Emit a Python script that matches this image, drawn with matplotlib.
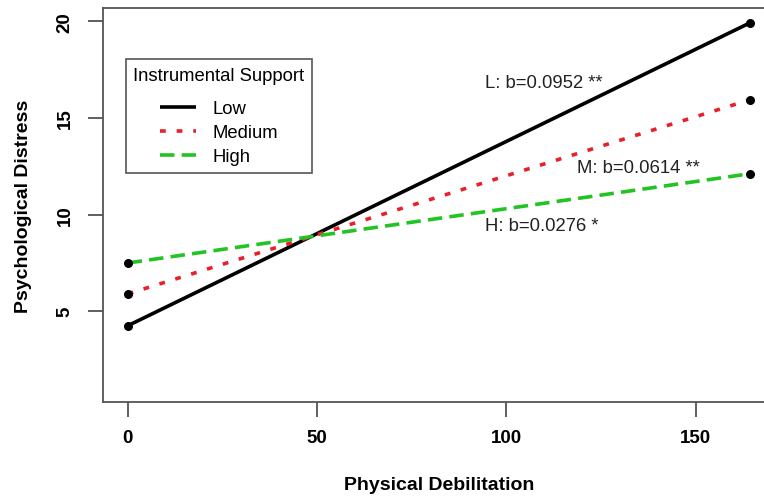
import matplotlib
matplotlib.use("Agg")
import matplotlib.pyplot as plt

plt.rcParams['font.family'] = ['Liberation Sans', 'DejaVu Sans']

# Data
x_vals = [0, 164.4]
low = [4.25, 19.93]
medium = [5.9, 15.95]
high = [7.5, 12.12]
labels = ["Low", "Medium", "High"]
annot_text = ["L: b=0.0952 **", "M: b=0.0614 **", "H: b=0.0276 *"]
annot_x = [109.8, 134.9, 109.4]
annot_y = [16.84, 12.43, 9.45]
x_ticks = [0, 50, 100, 150]
y_ticks = [5, 10, 15, 20]

fig = plt.figure(figsize=(7.64, 5.02), dpi=100)
ax = fig.add_axes([0.1344, 0.1978, 0.880, 0.784])

red = '#e8202a'
green = '#22c322'
ax.plot(x_vals, low, color='black', lw=2.6, linestyle='-', label=labels[0],
        solid_capstyle='butt')
ax.plot(x_vals, medium, color=red, lw=2.6, linestyle=(0, (1.6, 3.0)), label=labels[1])
ax.plot(x_vals, high, color=green, lw=2.6, linestyle=(0, (4.0, 2.0)), label=labels[2])
for ys in (low, medium, high):
    ax.scatter(x_vals, ys, color='black', s=30, zorder=5)

for t, xx, yy in zip(annot_text, annot_x, annot_y):
    ax.text(xx, yy, t, fontsize=13.3, color='#222222', ha='center', va='center')

ax.set_xlim(-6.6, 171.0)
ax.set_ylim(0.32, 20.69)
ax.set_xticks(x_ticks)
ax.set_yticks(y_ticks)
ax.set_xticklabels([str(v) for v in x_ticks], fontsize=13.5, fontweight='bold')
ax.set_yticklabels([str(v) for v in y_ticks], fontsize=13.5, fontweight='bold',
                   rotation=90, va='center')
ax.tick_params(axis='both', direction='out', length=11, width=1.2, color='#444444')
ax.tick_params(axis='x', pad=9)
ax.tick_params(axis='y', pad=10)
for sp in ax.spines.values():
    sp.set_color('#555555')
    sp.set_linewidth(1.3)

ax.set_xlabel("Physical Debilitation", fontsize=14, fontweight='bold', labelpad=21)
ax.set_ylabel("Psychological Distress", fontsize=14, fontweight='bold', labelpad=18)

leg = ax.legend(title="Instrumental Support", loc='upper left',
                bbox_to_anchor=((126 - 102.7) / 672.1, (402.7 - 60) / 393.7),
                fontsize=13.3, title_fontsize=13.3, frameon=True, fancybox=False,
                edgecolor='#555555', framealpha=1, handlelength=1.95,
                handletextpad=0.9, labelspacing=0.38, borderpad=0.4,
                alignment='center', borderaxespad=0)
leg.get_frame().set_linewidth(1.2)
leg._legend_box.sep = 13.3 * 0.38 + 7

fig.savefig("out.png", dpi=100)
